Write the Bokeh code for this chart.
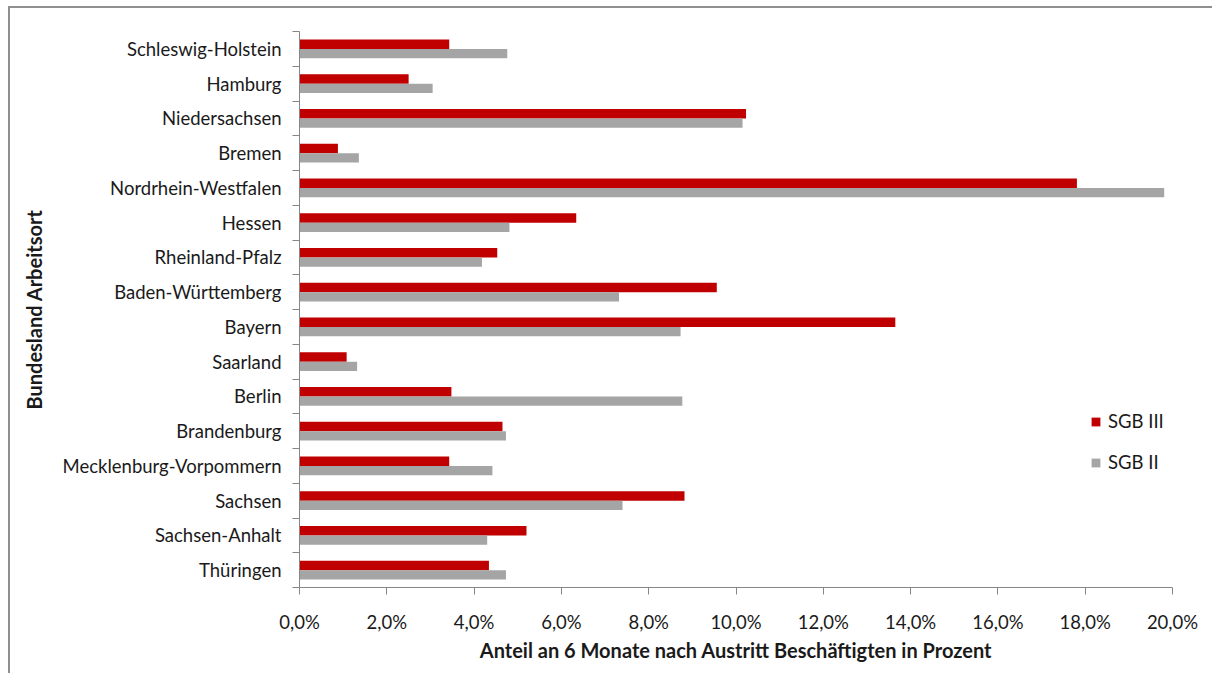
from bokeh.plotting import figure
from bokeh.models import Range1d, FixedTicker, Legend, LegendItem
from bokeh.embed import file_html
from bokeh.resources import INLINE

# Bundesländer, listed top to bottom
states = [
    "Schleswig-Holstein", "Hamburg", "Niedersachsen", "Bremen",
    "Nordrhein-Westfalen", "Hessen", "Rheinland-Pfalz", "Baden-Württemberg",
    "Bayern", "Saarland", "Berlin", "Brandenburg",
    "Mecklenburg-Vorpommern", "Sachsen", "Sachsen-Anhalt", "Thüringen",
]
# share employed 6 months after exit, in percent
sgb3 = [3.43, 2.50, 10.23, 0.88, 17.81, 6.34, 4.53, 9.56,
        13.65, 1.08, 3.48, 4.65, 3.43, 8.82, 5.20, 4.34]
sgb2 = [4.76, 3.05, 10.15, 1.36, 19.81, 4.81, 4.18, 7.32,
        8.73, 1.32, 8.77, 4.73, 4.42, 7.40, 4.30, 4.73]
x_ticks = [0, 2, 4, 6, 8, 10, 12, 14, 16, 18, 20]
x_tick_labels = ["0,0%", "2,0%", "4,0%", "6,0%", "8,0%", "10,0%",
                 "12,0%", "14,0%", "16,0%", "18,0%", "20,0%"]

RED = "#C00000"
GREY = "#A5A5A5"
AXIS = "#868686"
INK = "#1a1a1a"
FONT = "Lato"
LABEL_SIZE = "18.5px"
TITLE_SIZE = "20px"

n = len(states)
centers = [n - i - 0.5 for i in range(n)]
bar_h = 0.27

p = figure(
    width=1204, height=667,
    x_range=Range1d(0, 20), y_range=Range1d(0, n),
    output_backend="svg", toolbar_location=None,
    min_border_left=289, min_border_right=42,
    min_border_top=23, min_border_bottom=88,
)
p.styles = {
    "border-left": "2px solid #8f8f8f",
    "border-top": "2px solid #8f8f8f",
    "margin-left": "8px",
    "margin-top": "6px",
}
p.outline_line_color = None
p.xgrid.visible = False
p.ygrid.visible = False

r3 = p.hbar(y=[c + bar_h / 2 for c in centers], right=sgb3, left=0,
            height=bar_h, fill_color=RED, line_color=None)
r2 = p.hbar(y=[c - bar_h / 2 for c in centers], right=sgb2, left=0,
            height=bar_h, fill_color=GREY, line_color=None)

# category axis: names at centres, small ticks at the boundaries
ya = p.yaxis[0]
ya.ticker = FixedTicker(ticks=centers, minor_ticks=list(range(n + 1)))
ya.major_label_overrides = {c: s for c, s in zip(centers, states)}
ya.major_tick_line_color = None
ya.major_tick_out = 0
ya.minor_tick_out = 7
ya.minor_tick_in = 0
ya.minor_tick_line_color = AXIS
ya.axis_line_color = AXIS
ya.major_label_standoff = 11
ya.major_label_text_font = FONT
ya.major_label_text_font_size = LABEL_SIZE
ya.major_label_text_color = INK
ya.axis_label = "Bundesland Arbeitsort"
ya.axis_label_text_font = FONT
ya.axis_label_text_font_style = "bold"
ya.axis_label_text_font_size = TITLE_SIZE
ya.axis_label_text_color = INK
ya.axis_label_standoff = 14

xa = p.xaxis[0]
xa.ticker = FixedTicker(ticks=x_ticks, minor_ticks=[])
xa.major_label_overrides = {t: l for t, l in zip(x_ticks, x_tick_labels)}
xa.major_tick_out = 7
xa.major_tick_in = 0
xa.major_tick_line_color = AXIS
xa.axis_line_color = AXIS
xa.major_label_standoff = 16
xa.major_label_text_font = FONT
xa.major_label_text_font_size = LABEL_SIZE
xa.major_label_text_color = INK
xa.axis_label = "Anteil an 6 Monate nach Austritt Beschäftigten in Prozent"
xa.axis_label_text_font = FONT
xa.axis_label_text_font_style = "bold"
xa.axis_label_text_font_size = TITLE_SIZE
xa.axis_label_text_color = INK
xa.axis_label_standoff = 2

legend = Legend(
    items=[LegendItem(label="SGB III", renderers=[r3]),
           LegendItem(label="SGB II", renderers=[r2])],
    location=(791, 114),
    glyph_width=11, glyph_height=11,
    label_standoff=7, label_height=11,
    spacing=19, padding=0, margin=0,
    border_line_color=None, background_fill_alpha=0,
    label_text_font=FONT, label_text_font_size=LABEL_SIZE,
    label_text_color=INK,
)
p.add_layout(legend)

open("out.html", "w").write(file_html(p, INLINE))
